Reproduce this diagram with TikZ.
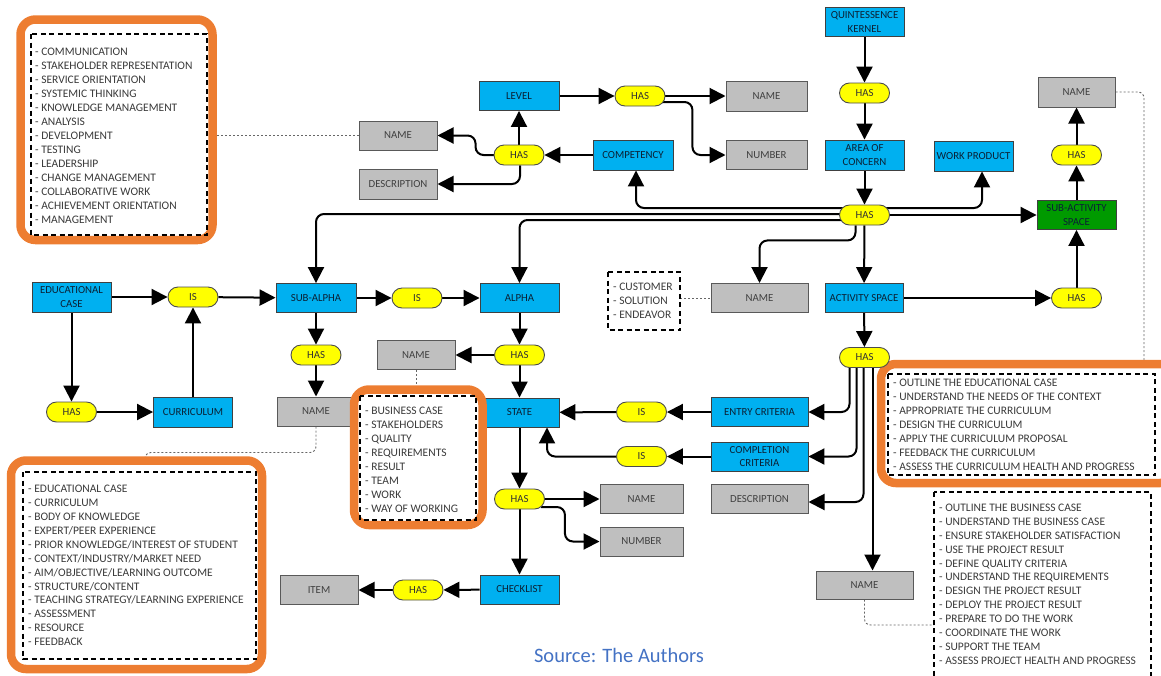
\documentclass[tikz,border=0pt]{standalone}
\usepackage{fontspec}
\setmainfont{Carlito}
\usetikzlibrary{arrows.meta,calc}
\pgfdeclarelayer{bg}
\pgfsetlayers{bg,main}
\definecolor{boxblue}{HTML}{00B0F0}
\definecolor{boxgray}{HTML}{BFBFBF}
\definecolor{boxyellow}{HTML}{FFFF00}
\definecolor{boxgreen}{HTML}{009A00}
\definecolor{frameorange}{HTML}{ED7D31}
\definecolor{srcblue}{HTML}{4472C4}
\definecolor{bluetext}{HTML}{0B2135}
\definecolor{listgray}{HTML}{3A3A3A}

\tikzset{
  lbl/.style={font=\fontsize{10.8}{13.5}\selectfont, align=center, inner sep=1pt},
  bluebox/.style={lbl, rectangle, fill=boxblue, draw=black!75, line width=0.9pt,
    text=bluetext, minimum width=79pt, minimum height=29pt},
  greenbox/.style={bluebox, fill=boxgreen},
  graybox/.style={lbl, rectangle, fill=boxgray, draw=black!65, line width=1pt,
    text=black!75, minimum width=78pt, minimum height=29pt},
  pill/.style={lbl, rectangle, rounded corners=10pt, fill=boxyellow, draw=black!70,
    line width=0.9pt, text=black!80, minimum width=50pt, minimum height=20pt},
  arr/.style={line width=2pt, rounded corners=8pt, -{Triangle[length=16pt,width=16pt]}},
  dotline/.style={line width=0.9pt, draw=black!60, dash pattern=on 2pt off 2pt, rounded corners=6pt},
  dashbox/.style={line width=1.5pt, dash pattern=on 5pt off 3.5pt},
  orangeframe/.style={line width=8.5pt, draw=frameorange, fill=white, rounded corners=15pt},
  listtxt/.style={font=\fontsize{11.5}{12}\selectfont, text=listgray, inner sep=0pt, anchor=base west},
}

\begin{document}
\begin{tikzpicture}[x=1pt,y=-1pt]
\useasboundingbox (0,0) rectangle (1161,675);

% ---- framed lists (drawn first so the nodes sit above them) ----
\draw[orangeframe] (20.5,19.5) rectangle (212.5,240);
\draw[dashbox] (31,34) rectangle (207,235);
\foreach \t [count=\i] in {COMMUNICATION,STAKEHOLDER REPRESENTATION,SERVICE ORIENTATION,SYSTEMIC THINKING,KNOWLEDGE MANAGEMENT,ANALYSIS,DEVELOPMENT,TESTING,LEADERSHIP,CHANGE MANAGEMENT,COLLABORATIVE WORK,ACHIEVEMENT ORIENTATION,MANAGEMENT}
  \node[listtxt] (comp-\i) at (35,{55.7+(\i-1)*14}) {- \t};

\draw[orangeframe] (11,460.5) rectangle (262,669);
\draw[dashbox] (23,472) rectangle (256,659);
\foreach \t [count=\i] in {EDUCATIONAL CASE,CURRICULUM,BODY OF KNOWLEDGE,EXPERT/PEER EXPERIENCE,PRIOR KNOWLEDGE/INTEREST OF STUDENT,CONTEXT/INDUSTRY/MARKET NEED,AIM/OBJECTIVE/LEARNING OUTCOME,STRUCTURE/CONTENT,TEACHING STRATEGY/LEARNING EXPERIENCE,ASSESSMENT,RESOURCE,FEEDBACK}
  \node[listtxt] (sub-\i) at (28,{492.7+(\i-1)*13.9}) {- \t};

\draw[orangeframe] (881,364) rectangle (1175,483);
\draw[dashbox] (888,374) rectangle (1155,475);
\foreach \t [count=\i] in {OUTLINE THE EDUCATIONAL CASE,UNDERSTAND THE NEEDS OF THE CONTEXT,APPROPRIATE THE CURRICULUM,DESIGN THE CURRICULUM,APPLY THE CURRICULUM PROPOSAL,FEEDBACK THE CURRICULUM,ASSESS THE CURRICULUM HEALTH AND PROGRESS}
  \node[listtxt] (sact-\i) at (893,{386.7+(\i-1)*13.9}) {- \t};

\draw[dashbox] (934,492) rectangle (1151,680);
\foreach \t [count=\i] in {OUTLINE THE BUSINESS CASE,UNDERSTAND THE BUSINESS CASE,ENSURE STAKEHOLDER SATISFACTION,USE THE PROJECT RESULT,DEFINE QUALITY CRITERIA,UNDERSTAND THE REQUIREMENTS,DESIGN THE PROJECT RESULT,DEPLOY THE PROJECT RESULT,PREPARE TO DO THE WORK,COORDINATE THE WORK,SUPPORT THE TEAM,ASSESS PROJECT HEALTH AND PROGRESS}
  \node[listtxt] (act-\i) at (939,{511.7+(\i-1)*13.85}) {- \t};

\draw[dashbox] (608,272) rectangle (680,330);
\foreach \t [count=\i] in {CUSTOMER,SOLUTION,ENDEAVOR}
  \node[listtxt] (aoc-\i) at (613,{290.7+(\i-1)*14}) {- \t};

% ---- blue entities ----
\node[bluebox] (qk) at (864.5,22) {QUINTESSENCE\\KERNEL};
\node[bluebox, minimum height=30pt] (aoc) at (864.5,155) {AREA OF\\CONCERN};
\node[bluebox, minimum height=30pt] (wp) at (973.5,156) {WORK PRODUCT};
\node[bluebox, minimum width=80pt, minimum height=30pt] (comp) at (633,155) {COMPETENCY};
\node[bluebox, minimum width=80pt] (level) at (519,96) {LEVEL};
\node[bluebox, minimum height=30pt] (edu) at (71.5,297) {EDUCATIONAL\\CASE};
\node[bluebox, minimum height=30pt] (curr) at (193,412) {CURRICULUM};
\node[bluebox, minimum width=80pt] (subalpha) at (316,298) {SUB-ALPHA};
\node[bluebox] (alpha) at (519.5,298) {ALPHA};
\node[bluebox] (state) at (519.5,412.5) {STATE};
\node[bluebox, minimum width=97pt] (entry) at (759.5,412) {ENTRY CRITERIA};
\node[bluebox, minimum width=97pt] (compl) at (759.5,456.5) {COMPLETION\\CRITERIA};
\node[bluebox, minimum width=78pt] (act) at (864,298) {ACTIVITY SPACE};
\node[bluebox] (check) at (519.5,589.5) {CHECKLIST};
\node[greenbox] (sas) at (1076.5,215) {SUB-ACTIVITY\\SPACE};

% ---- grey attributes ----
\node[graybox, minimum width=81pt, minimum height=30pt] (nlev) at (766.5,96) {NAME};
\node[graybox, minimum width=81pt] (numlev) at (766.5,155) {NUMBER};
\node[graybox] (ncomp) at (398,135.5) {NAME};
\node[graybox, minimum height=30pt] (desc) at (398,184) {DESCRIPTION};
\node[graybox, minimum width=77pt, minimum height=30pt] (nsas) at (1076.5,92) {NAME};
\node[graybox, minimum width=97pt] (nalpha) at (759.5,298) {NAME};
\node[graybox] (nstate) at (416,355) {NAME};
\node[graybox, minimum width=77pt] (nsub) at (316,411.5) {NAME};
\node[graybox, minimum width=83pt] (nst2) at (641.5,499) {NAME};
\node[graybox, minimum width=83pt] (numst) at (641.5,541.5) {NUMBER};
\node[graybox, minimum width=97pt] (desc2) at (759.5,499) {DESCRIPTION};
\node[graybox] (item) at (319,590) {ITEM};
\node[graybox, minimum width=97pt, minimum height=28pt] (nact) at (864.5,585) {NAME};

% ---- relation pills ----
\node[pill] (hasaoc) at (864.5,93) {HAS};
\node[pill] (hasmain) at (864.5,215) {HAS};
\node[pill] (hassas) at (1076.5,155) {HAS};
\node[pill] (haslev) at (640,96) {HAS};
\node[pill] (hascomp) at (519,155) {HAS};
\node[pill] (is1) at (193,297) {IS};
\node[pill] (hassub) at (316,355) {HAS};
\node[pill] (is2) at (417,298) {IS};
\node[pill] (hasalpha) at (519.5,355) {HAS};
\node[pill] (isentry) at (641.5,412) {IS};
\node[pill] (iscompl) at (641.5,456.5) {IS};
\node[pill] (hasstate) at (519.5,499) {HAS};
\node[pill] (hascheck) at (418,590) {HAS};
\node[pill] (hasedu) at (71.5,412) {HAS};
\node[pill] (hasact) at (1076.5,298) {HAS};
\node[pill] (hasact2) at (864.5,357.5) {HAS};

% frame around the alpha-name list, drawn over the state box edge
\draw[orangeframe] (354,389.5) rectangle (482.5,525);
\draw[dashbox] (360,396) rectangle (476,520);
\foreach \t [count=\i] in {BUSINESS CASE,STAKEHOLDERS,QUALITY,REQUIREMENTS,RESULT,TEAM,WORK,WAY OF WORKING}
  \node[listtxt] (alp-\i) at (365,{414.7+(\i-1)*13.9}) {- \t};

% free ends of the dotted links
\coordinate (compframe) at (212,135.5);
\coordinate (subframe) at (145,472);
\coordinate (alpframe) at (416,396);
\coordinate (sactframe) at (1144,374);
\coordinate (actframe) at (934,625);
\coordinate (aocframe) at (680,298);

\node[font=\fontsize{20.5}{24}\selectfont, text=srcblue, inner sep=0pt] (src) at (619,655) {Source: The Authors};

% ---- connectors ----
\begin{pgfonlayer}{bg}
\draw[arr] (qk) -- (hasaoc);
\draw[arr] (hasaoc) -- (aoc);
\draw[arr] (aoc) -- (hasmain);
\draw[arr] ([xshift=8pt,yshift=7pt]hasmain.west) -| ([xshift=3pt]comp.south);
\draw[arr] ([xshift=8pt,yshift=1pt]hasmain.west) -| (subalpha.north);
\draw[arr] ([xshift=8pt,yshift=-5pt]hasmain.west) -| (alpha.north);
\draw[arr] ([xshift=-9pt]hasmain.south) -- ++(0,15) -| (nalpha.north);
\draw[arr] (hasmain) -- (act);
\draw[arr] ([xshift=-8pt,yshift=7pt]hasmain.east) -| ([xshift=8.5pt]wp.south);
\draw[arr] (hasmain) -- (sas);
\draw[arr] (sas) -- (hassas);
\draw[arr] (hassas) -- (nsas);
\draw[arr] (act) -- (hasact);
\draw[arr] (hasact) -- (sas);
\draw[arr] (act) -- (hasact2);
\draw[arr] ([xshift=-15pt,yshift=4pt]hasact2.south) |- (entry.east);
\draw[arr] ([xshift=-8pt,yshift=4pt]hasact2.south) |- (compl.east);
\draw[arr] ([xshift=-1pt,yshift=4pt]hasact2.south) |- ([yshift=-3pt]desc2.east);
\draw[arr] ([xshift=8pt,yshift=4pt]hasact2.south) -- ([xshift=8pt]nact.north);

\draw[arr] (edu) -- (is1);
\draw[arr] (is1) -- (subalpha);
\draw[arr] (edu) -- (hasedu);
\draw[arr] (hasedu) -- (curr);
\draw[arr] (curr) -- (is1);
\draw[arr] (subalpha) -- (is2);
\draw[arr] (is2) -- (alpha);
\draw[arr] (subalpha) -- (hassub);
\draw[arr] (hassub) -- (nsub);
\draw[arr] (alpha) -- (hasalpha);
\draw[arr] (hasalpha) -- (nstate);
\draw[arr] (hasalpha) -- (state);
\draw[arr] (entry) -- (isentry);
\draw[arr] (isentry) -- (state);
\draw[arr] (compl) -- (iscompl);
\draw[arr] ([xshift=8pt]iscompl.west) -| ([xshift=27.5pt]state.south);
\draw[arr] (state) -- (hasstate);
\draw[arr] (hasstate) -- (nst2);
\draw[arr] ([xshift=-4pt,yshift=-8pt]hasstate.east) -- ++(24,0) |- (numst.west);
\draw[arr] (hasstate) -- (check);
\draw[arr] (check) -- (hascheck);
\draw[arr] (hascheck) -- (item);

\draw[arr] (comp) -- (hascomp);
\draw[arr] (hascomp) -- (level);
\draw[arr] ([xshift=6pt]hascomp.west) -- ++(-24,0) |- (ncomp.east);
\draw[arr] ([xshift=1pt]hascomp.south) |- (desc.east);
\draw[arr] (level) -- (haslev);
\draw[arr] (haslev) -- (nlev);
\draw[arr] ([xshift=-5pt,yshift=-6pt]haslev.east) -- ++(32,0) |- (numlev.west);

% dotted links to the value lists
\draw[dotline] (ncomp.west) -- (compframe);
\draw[dotline] (nsub.south) -- ++(0,26) -| (subframe);
\draw[dotline] (nstate.south) -- (alpframe);
\draw[dotline] (nsas.east) -| (sactframe);
\draw[dotline] (nact.south) |- (actframe);
\draw[dotline] (aocframe) -- (nalpha.west);
\end{pgfonlayer}
\end{tikzpicture}
\end{document}
